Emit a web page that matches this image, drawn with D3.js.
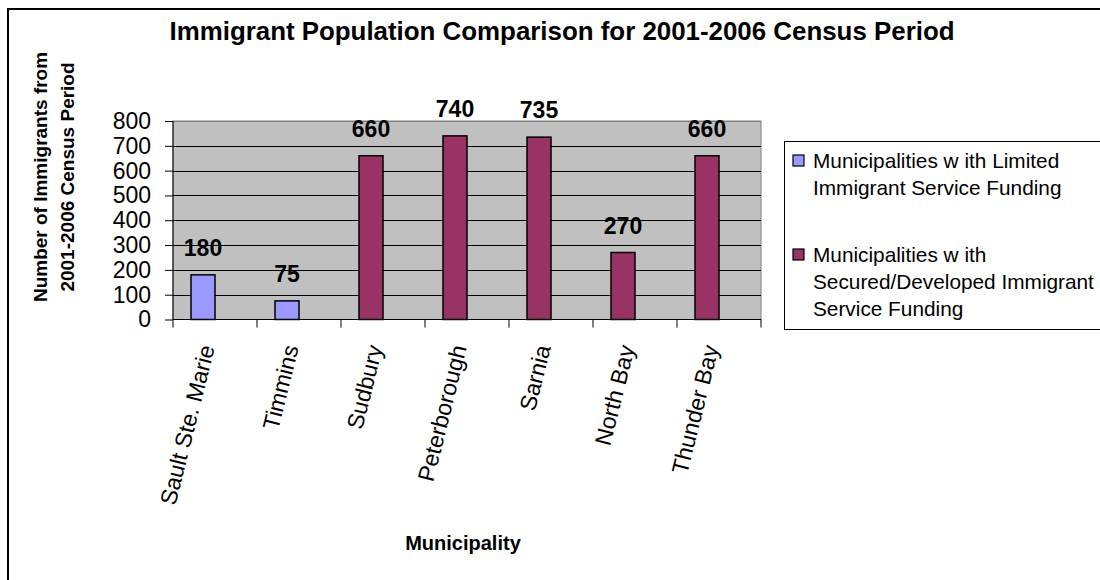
<!DOCTYPE html>
<html>
<head>
<meta charset="utf-8">
<script src="https://cdn.jsdelivr.net/npm/d3@7"></script>
<style>
  html, body { margin: 0; padding: 0; background: #fff; }
  svg { display: block; font-family: "Liberation Sans", Arial, Helvetica, sans-serif; }
</style>
</head>
<body>
<svg id="chart" width="1100" height="580"></svg>
<script>
// ---- data ----
const categories = ["Sault Ste. Marie", "Timmins", "Sudbury", "Peterborough", "Sarnia", "North Bay", "Thunder Bay"];
const limitedValues = [180, 75, null, null, null, null, null];
const securedValues = [null, null, 660, 740, 735, 270, 660];
const yTicks = [0, 100, 200, 300, 400, 500, 600, 700, 800];
const seriesNames = [
  ["Municipalities w ith Limited", "Immigrant Service Funding"],
  ["Municipalities w ith", "Secured/Developed Immigrant", "Service Funding"]
];
const titleText = "Immigrant Population Comparison for 2001-2006 Census Period";
const yTitleLines = ["Number of Immigrants from", "2001-2006 Census Period"];
const xTitleText = "Municipality";

// ---- layout ----
const colors = ["#9999FF", "#993366"];
const plot = { left: 173, right: 761, top: 121, bottom: 319.5 };
const svg = d3.select("#chart");

// outer border (cropped at right/bottom in reference)
svg.append("rect").attr("x", 8).attr("y", 9).attr("width", 1200).attr("height", 700)
  .attr("fill", "none").attr("stroke", "#000").attr("stroke-width", 2);

const x = d3.scaleBand().domain(categories).range([plot.left, plot.right]).padding(0);
const y = d3.scaleLinear().domain([0, 800]).range([plot.bottom, plot.top]);

// plot area background
svg.append("rect").attr("x", plot.left).attr("y", plot.top)
  .attr("width", plot.right - plot.left).attr("height", plot.bottom - plot.top)
  .attr("fill", "#C0C0C0").attr("stroke", "#808080").attr("stroke-width", 1);

// gridlines
svg.append("g").selectAll("line").data(yTicks.filter(d => d > 0)).join("line")
  .attr("x1", plot.left).attr("x2", plot.right)
  .attr("y1", d => Math.round(y(d)) + 0.5).attr("y2", d => Math.round(y(d)) + 0.5)
  .attr("stroke", d => d === 800 ? "#808080" : "#000").attr("stroke-width", 1);

// bars
const barW = x.bandwidth() * 24 / 84;
const rows = [];
categories.forEach((c, i) => {
  if (limitedValues[i] != null) rows.push({ c, v: limitedValues[i], s: 0 });
  if (securedValues[i] != null) rows.push({ c, v: securedValues[i], s: 1 });
});
svg.append("g").selectAll("rect").data(rows).join("rect")
  .attr("x", d => x(d.c) + x.bandwidth() / 2 - barW)
  .attr("y", d => y(d.v))
  .attr("width", barW)
  .attr("height", d => y(0) - y(d.v))
  .attr("fill", d => colors[d.s])
  .attr("stroke", "#000").attr("stroke-width", 1.5);

// value labels
svg.append("g").selectAll("text").data(rows).join("text")
  .attr("x", d => x(d.c) + x.bandwidth() / 2 - barW / 2)
  .attr("y", d => y(d.v) - 19)
  .attr("text-anchor", "middle")
  .attr("font-size", 23).attr("font-weight", "bold")
  .text(d => d.v);

// y axis
const yAxis = d3.axisLeft(y).tickValues(yTicks).tickSize(8).tickPadding(14);
const gy = svg.append("g").attr("transform", `translate(${plot.left},0)`).call(yAxis);
gy.select(".domain").attr("stroke", "#000").attr("d", `M0,${plot.top}V${plot.bottom}`);
gy.selectAll(".tick line").attr("stroke", "#000");
gy.selectAll(".tick text").attr("font-size", 23).attr("font-family", null).attr("fill", "#000");

// x axis
const gx = svg.append("g").attr("transform", `translate(0,${plot.bottom})`);
gx.append("line").attr("x1", plot.left).attr("x2", plot.right).attr("y1", 0).attr("y2", 0).attr("stroke", "#000");
const bounds = categories.map(c => x(c)).concat([plot.right]);
gx.selectAll("line.tk").data(bounds).join("line").attr("class", "tk")
  .attr("x1", d => d).attr("x2", d => d).attr("y1", 0).attr("y2", 8).attr("stroke", "#000");
gx.selectAll("text").data(categories).join("text")
  .attr("transform", d => `translate(${x(d) + x.bandwidth() / 2 - 8},${26}) rotate(-76)`)
  .attr("text-anchor", "end").attr("dy", "0.35em")
  .attr("font-size", 23)
  .text(d => d);

// titles
svg.append("text").attr("x", 562).attr("y", 40).attr("text-anchor", "middle")
  .attr("font-size", 25).attr("font-weight", "bold")
  .attr("textLength", 785).attr("lengthAdjust", "spacingAndGlyphs").text(titleText);
svg.append("text").attr("x", 463).attr("y", 550).attr("text-anchor", "middle")
  .attr("font-size", 20).attr("font-weight", "bold").text(xTitleText);
yTitleLines.forEach((t, i) => {
  svg.append("text").attr("transform", `translate(${40 + i * 27},177) rotate(-90)`)
    .attr("text-anchor", "middle").attr("dy", "0.35em")
    .attr("font-size", 19).attr("font-weight", "bold").text(t);
});

// legend
const lg = svg.append("g");
lg.append("rect").attr("x", 784.5).attr("y", 141.5).attr("width", 400).attr("height", 188)
  .attr("fill", "#fff").attr("stroke", "#000").attr("stroke-width", 1);
const lineBase = [[168, 195], [262, 289, 316]];
seriesNames.forEach((lines, s) => {
  lg.append("rect").attr("x", 793).attr("y", lineBase[s][0] - 13).attr("width", 11).attr("height", 11)
    .attr("fill", colors[s]).attr("stroke", "#000").attr("stroke-width", 1.2);
  lines.forEach((t, j) => {
    lg.append("text").attr("x", 813).attr("y", lineBase[s][j]).attr("font-size", 20.8).text(t);
  });
});
</script>
</body>
</html>
